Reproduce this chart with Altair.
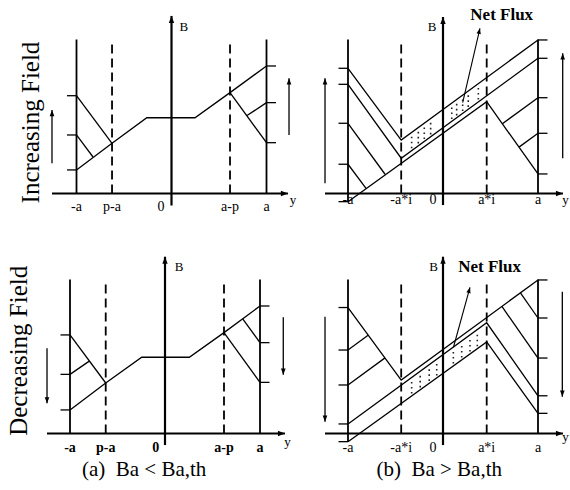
import math

import altair as alt
import numpy as np
import pandas as pd

SERIF = "Liberation Serif"
W, H = 570, 490
PX_PER_A = 95.0   # canvas pixels per unit of y/a
PX_PER_B = 15.4   # canvas pixels per unit of B
# canvas position of each panel's origin (y = 0, B = 0)
ORIGIN = {"tl": (171.5, 193.5), "tr": (443.0, 193.5),
          "bl": (165.0, 433.5), "br": (443.0, 433.5)}
ARROW = "M0,0L-0.38,1L0.38,1Z"   # arrowhead whose tip sits on the data point
GAP = "\u00a0\u00a0"              # two spaces that SVG keeps

# ---------------------------------------------------------------- data
LABELS_P = ["-a", "p-a", "0", "a-p", "a"]
LABELS_I = ["-a", "-a*i", "0", "a*i", "a"]

# (a) increasing field, Ba < Ba,th
TL_PROFILE = [(-1.0, 1.53), (-0.626, 3.26), (-0.26, 4.92), (0.247, 4.92), (0.616, 6.55), (1.0, 8.28)]
TL_STEPS = [[(-1.0, 6.35), (-0.626, 3.26)], [(-1.0, 3.80), (-0.826, 2.37)],
            [(0.616, 6.55), (1.0, 3.30)], [(0.795, 5.06), (1.0, 5.90)]]
TL_TICKS_LEFT = [6.35, 3.80, 1.53]
TL_TICKS_RIGHT = [8.28, 5.90, 3.30]
TL_FRONTS = [-0.626, 0.616]
TL_LABEL_U = [-1.0, -0.626, -0.11, 0.616, 1.0]
TL_FIELD = [(-1.258, 1.96, 5.42), (1.237, 3.80, 7.48)]   # (position, tail, tip)

# (b) increasing field, Ba > Ba,th
TR_UPPER = [(-1.0, 8.13), (-0.44, 3.47), (1.0, 9.97)]
TR_MIDDLE = [(-1.0, 7.09), (-0.44, 2.29), (1.0, 8.78)]
TR_LOWER = [(-1.0, -0.53), (0.46, 5.96), (1.0, 1.27)]
TR_STEPS = [[(-1.0, 4.56), (-0.61, 1.25)], [(-1.0, 1.90), (-0.81, 0.33)],
            [(1.0, 6.22), (0.625, 4.53)], [(1.0, 3.91), (0.80, 3.01)]]
TR_TICKS_LEFT = [8.13, 7.09, 4.56, 1.90, -0.53]
TR_TICKS_RIGHT = [9.97, 8.78, 6.22, 3.91, 1.27]
TR_FRONTS = [-0.44, 0.46]
TR_LABEL_U = [-1.0, -0.44, -0.105, 0.46, 1.0]
TR_FIELD = [(-1.242, 0.66, 7.48), (1.26, 2.29, 9.10)]
TR_DOT_COLS = [-0.33, -0.26, -0.197, -0.13, 0.092, 0.144, 0.207, 0.266, 0.372]
TR_FLUX_ARROW = [(0.207, 5.90), (0.389, 10.73)]

# (a) decreasing field
BL_PROFILE = [(-1.0, 1.53), (-0.624, 3.28), (-0.245, 4.95), (0.256, 4.95), (0.621, 6.55), (1.0, 8.28)]
BL_STEPS = [[(-1.0, 6.40), (-0.624, 3.28)], [(-1.0, 3.84), (-0.797, 4.70)],
            [(0.621, 6.55), (1.0, 3.32)], [(0.818, 7.45), (1.0, 5.90)]]
BL_TICKS_LEFT = [6.40, 3.84, 1.53]
BL_TICKS_RIGHT = [8.28, 5.90, 3.32]
BL_FRONTS = [-0.624, 0.621]
BL_LABEL_U = [-1.0, -0.624, -0.098, 0.621, 1.0]
BL_FIELD = [(-1.242, 5.53, 1.96), (1.245, 7.55, 3.82)]

# (b) decreasing field
BR_UPPER = [(-1.0, 8.18), (-0.44, 3.47), (1.0, 9.97)]
BR_MIDDLE = [(-1.0, 0.62), (0.46, 7.19), (1.0, 2.45)]
BR_LOWER = [(-1.0, -0.53), (0.46, 5.95), (1.0, 1.31)]
BR_STEPS = [[(-1.0, 5.42), (-0.785, 6.39)], [(-1.0, 3.15), (-0.61, 4.91)],
            [(1.0, 4.90), (0.62, 8.25)], [(1.0, 7.50), (0.815, 9.13)]]
BR_TICKS_LEFT = [8.18, 5.42, 3.15, 0.62, -0.53]
BR_TICKS_RIGHT = [9.97, 7.50, 4.90, 2.45, 1.31]
BR_FRONTS = [-0.44, 0.46]
BR_LABEL_U = [-1.0, -0.44, -0.105, 0.46, 1.0]
BR_FIELD = [(-1.242, 7.58, 0.77), (1.256, 9.21, 2.39)]
BR_DOT_COLS = [-0.33, -0.24, -0.145, -0.066, 0.109, 0.197, 0.284, 0.361]
BR_FLUX_ARROW = [(0.11, 5.60), (0.284, 9.49)]


# ---------------------------------------------------------------- helpers
def enc(key):
    cx, cy = ORIGIN[key]
    xs = alt.Scale(domain=[-cx / PX_PER_A, (W - cx) / PX_PER_A], nice=False, zero=False)
    ys = alt.Scale(domain=[(cy - H) / PX_PER_B, cy / PX_PER_B], nice=False, zero=False)
    return alt.X("u:Q", scale=xs, axis=None), alt.Y("B:Q", scale=ys, axis=None)


def paths(key, items, width=1.3, dash=None):
    rows = [{"id": i, "k": k, "u": u, "B": b}
            for i, path in enumerate(items) for k, (u, b) in enumerate(path)]
    x, y = enc(key)
    style = {"color": "black", "strokeWidth": width}
    if dash:
        style["strokeDash"] = dash
    return alt.Chart(pd.DataFrame(rows)).mark_line(**style).encode(
        x=x, y=y, detail="id:N", order="k:Q")


def vrules(key, us, b0, b1, width, dash=None, color="black"):
    df = pd.DataFrame({"u": us, "B": b0, "B2": b1})
    x, y = enc(key)
    style = {"color": color, "strokeWidth": width}
    if dash:
        style["strokeDash"] = dash
    return alt.Chart(df).mark_rule(**style).encode(x=x, y=y, y2="B2:Q")


def hrules(key, u0, u1, bs, width):
    df = pd.DataFrame({"u": u0, "u2": u1, "B": bs})
    x, y = enc(key)
    return alt.Chart(df).mark_rule(color="black", strokeWidth=width).encode(
        x=x, x2="u2:Q", y=y)


def heads(key, pts, size):
    df = pd.DataFrame(pts, columns=["u", "B", "ang"])
    x, y = enc(key)
    return alt.Chart(df).mark_point(shape=ARROW, filled=True, fill="black",
                                    strokeWidth=0, opacity=1, size=size).encode(
        x=x, y=y, angle=alt.Angle("ang:Q", scale=None))


def texts(key, us, bs, labels, size, weight="normal", angle=0):
    df = pd.DataFrame({"u": us, "B": bs, "t": labels})
    x, y = enc(key)
    return alt.Chart(df).mark_text(font=SERIF, fontSize=size, fontWeight=weight,
                                   angle=angle, align="center", baseline="middle",
                                   color="black").encode(x=x, y=y, text="t:N")


def heading(u0, b0, u1, b1):
    return math.degrees(math.atan2((u1 - u0) * PX_PER_A, (b1 - b0) * PX_PER_B))


def panel(key, lines, ticks_l, ticks_r, fronts, low_edge, label_u, label_b,
          labels, label_weight, field, h_axis, v_axis, b_pos, y_pos):
    layers = []
    # field-ramp arrows beside the slab
    layers.append(vrules(key, [f[0] for f in field], [f[1] for f in field],
                         [f[2] for f in field], 1.3))
    layers.append(heads(key, [(f[0], f[2], 0 if f[2] > f[1] else 180) for f in field], 150))
    # axes
    layers.append(hrules(key, [h_axis[0]], [h_axis[1]], [0.0], 2.0))
    layers.append(vrules(key, [0.0], [v_axis[0]], [v_axis[1]], 2.2))
    layers.append(heads(key, [(h_axis[1], 0.0, 90), (0.0, v_axis[1], 0)], 200))
    # slab faces and flux fronts
    layers.append(vrules(key, [-1.0, 1.0], [low_edge, 0.0], [10.0, 10.0], 1.8))
    layers.append(vrules(key, fronts, [0.0, 0.0], [10.0, 10.0], 1.8, dash=[9, 5]))
    layers.append(hrules(key, [-1.1] * len(ticks_l), [-1.0] * len(ticks_l), ticks_l, 1.3))
    layers.append(hrules(key, [1.0] * len(ticks_r), [1.1] * len(ticks_r), ticks_r, 1.3))
    # field profiles
    layers.append(paths(key, lines))
    # text
    layers.append(texts(key, label_u, [label_b] * len(labels), labels, 14, label_weight))
    layers.append(texts(key, [b_pos[0]], [b_pos[1]], ["B"], 13))
    layers.append(texts(key, [y_pos[0]], [y_pos[1]], ["y"], 13))
    return layers


def dot_columns(key, cols, top_path, bottom_path, inset=0.15):
    tu, tb = zip(*top_path)
    bu, bb = zip(*bottom_path)
    top = np.interp(cols, tu, tb) - inset
    bottom = np.interp(cols, bu, bb) + inset
    return vrules(key, cols, bottom, top, 1.6, dash=[1.6, 3.4], color="#222222")


def flux_pointer(key, arrow, text_pos):
    (u0, b0), (u1, b1) = arrow
    return [
        paths(key, [arrow], width=1.1),
        heads(key, [(u1, b1, heading(u0, b0, u1, b1))], 130),
        texts(key, [text_pos[0]], [text_pos[1]], ["Net Flux"], 17, "bold"),
    ]


# ---------------------------------------------------------------- panels
layers = []
layers += panel("tl", [TL_PROFILE] + TL_STEPS, TL_TICKS_LEFT, TL_TICKS_RIGHT, TL_FRONTS, 0.0,
                TL_LABEL_U, -0.86, LABELS_P, "normal", TL_FIELD,
                (-1.258, 1.226), (-0.78, 11.53), (0.13, 10.83), (1.28, -0.42))
layers.append(texts("tl", [-1.479], [4.61], ["Increasing Field"], 25, angle=270))

layers += panel("tr", [TR_UPPER, TR_MIDDLE, TR_LOWER] + TR_STEPS, TR_TICKS_LEFT, TR_TICKS_RIGHT,
                TR_FRONTS, -0.53, TR_LABEL_U, -0.45, LABELS_I, "normal", TR_FIELD,
                (-1.242, 1.263), (-0.75, 11.46), (-0.116, 10.81), (1.29, -0.42))
layers.append(dot_columns("tr", TR_DOT_COLS, TR_UPPER, TR_MIDDLE))
layers += flux_pointer("tr", TR_FLUX_ARROW, (0.618, 11.59))

layers += panel("bl", [BL_PROFILE] + BL_STEPS, BL_TICKS_LEFT, BL_TICKS_RIGHT, BL_FRONTS, 0.0,
                BL_LABEL_U, -0.96, LABELS_P, "bold", BL_FIELD,
                (-1.242, 1.263), (-0.75, 11.48), (0.147, 10.83), (1.29, -0.55))
layers.append(texts("bl", [-1.537], [5.37], ["Decreasing Field"], 25, angle=270))
layers.append(texts("bl", [-0.22], [-2.37], ["(a)" + GAP + "Ba < Ba,th"], 21))

layers += panel("br", [BR_UPPER, BR_MIDDLE, BR_LOWER] + BR_STEPS, BR_TICKS_LEFT, BR_TICKS_RIGHT,
                BR_FRONTS, -0.53, BR_LABEL_U, -0.96, LABELS_I, "normal", BR_FIELD,
                (-1.242, 1.263), (-0.75, 11.48), (-0.10, 10.83), (1.29, -0.25))
layers.append(dot_columns("br", BR_DOT_COLS, BR_MIDDLE, BR_LOWER))
layers += flux_pointer("br", BR_FLUX_ARROW, (0.49, 10.83))
layers.append(texts("br", [-0.04], [-2.37], ["(b)" + GAP + "Ba > Ba,th"], 21))

chart = (
    alt.layer(*layers)
    .resolve_scale(x="independent", y="independent")
    .properties(width=W, height=H, padding=0, autosize="none", background="white")
    .configure_view(stroke=None)
)

chart.save("out.html", embed_options={"renderer": "svg", "actions": False})
